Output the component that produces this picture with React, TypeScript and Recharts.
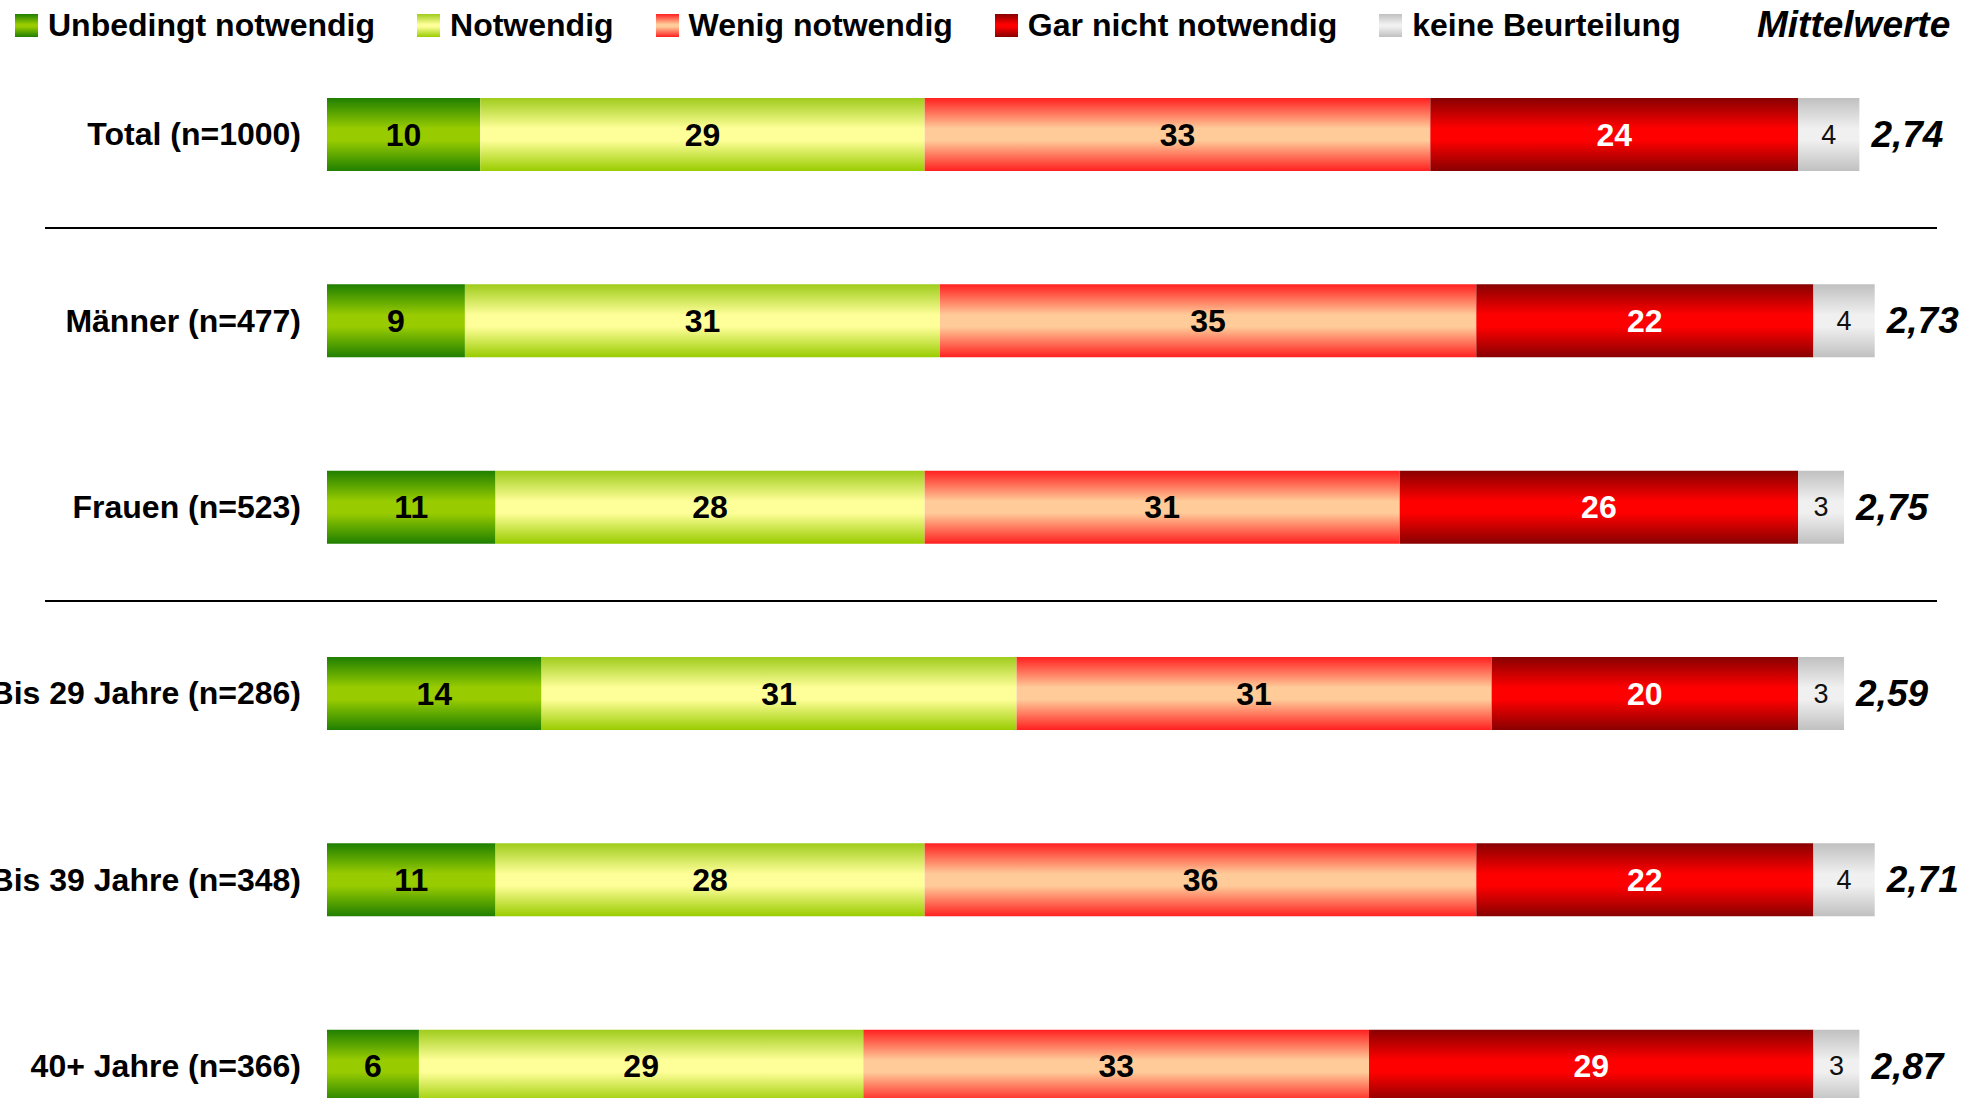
import React from 'react';
import { BarChart, Bar, XAxis, YAxis, LabelList, Legend, ReferenceLine } from 'recharts';

// ---------- data ----------
const categories = [
  'Total (n=1000)',
  'Männer (n=477)',
  'Frauen (n=523)',
  'Bis 29 Jahre (n=286)',
  'Bis 39 Jahre (n=348)',
  '40+ Jahre (n=366)',
];
const unbedingt = [10, 9, 11, 14, 11, 6];
const notwendig = [29, 31, 28, 31, 28, 29];
const wenig = [33, 35, 31, 31, 36, 33];
const garNicht = [24, 22, 26, 20, 22, 29];
const keine = [4, 4, 3, 3, 4, 3];
const means = [2.74, 2.73, 2.75, 2.59, 2.71, 2.87];

const seriesKeys = ['unbedingt', 'notwendig', 'wenig', 'garNicht', 'keine'];
const seriesNames = [
  'Unbedingt notwendig',
  'Notwendig',
  'Wenig notwendig',
  'Gar nicht notwendig',
  'keine Beurteilung',
];
const meanTitle = 'Mittelwerte';
const separatorBefore = [1, 3]; // separator line drawn above these category indices

// ---------- styles ----------
const gradients = [
  ['#1f7f00', '#99cc00', '#99cc00', '#1f7f00'],
  ['#9fcc1c', '#ffff99', '#ffff99', '#99cc00'],
  ['#ff2020', '#ffcc99', '#ffcc99', '#ff2020'],
  ['#880000', '#ff0000', '#ff0000', '#880000'],
  ['#c0c0c0', '#f0f0f0', '#f0f0f0', '#c0c0c0'],
];
const gradOffsets = ['0%', '42%', '58%', '100%'];
const labelColors = ['#000', '#000', '#000', '#fff', '#111'];
const FONT = '"Liberation Sans", Arial, Helvetica, sans-serif';

const data = categories.map((name, i) => ({
  name,
  unbedingt: unbedingt[i],
  notwendig: notwendig[i],
  wenig: wenig[i],
  garNicht: garNicht[i],
  keine: keine[i],
  mean: means[i],
}));

const W = 1982;
const H = 1180;
const margin = { top: 41, right: 46, bottom: 21, left: 0 };
const bandStep = (H - margin.top - margin.bottom) / categories.length;

const CategoryTick = (props: any) => {
  const { x, y, payload } = props;
  return (
    <text
      x={x}
      y={y}
      textAnchor="end"
      dominantBaseline="central"
      fontFamily={FONT}
      fontWeight="bold"
      fontSize={32}
      fill="#000"
    >
      {payload.value}
    </text>
  );
};

const makeSegLabel = (i: number) => (props: any) => {
  const { x, y, width, height, value } = props;
  const isGrey = i === 4;
  return (
    <text
      x={x + width / 2}
      y={y + height / 2}
      textAnchor="middle"
      dominantBaseline="central"
      fontFamily={FONT}
      fontWeight={isGrey ? 'normal' : 'bold'}
      fontSize={isGrey ? 27 : 32}
      fill={labelColors[i]}
    >
      {value}
    </text>
  );
};

const MeanLabel = (props: any) => {
  const { x, y, width, height, value } = props;
  return (
    <text
      x={x + width + 12}
      y={y + height / 2}
      textAnchor="start"
      dominantBaseline="central"
      fontFamily={FONT}
      fontWeight="bold"
      fontStyle="italic"
      fontSize={37}
      fill="#000"
    >
      {Number(value).toFixed(2).replace('.', ',')}
    </text>
  );
};

const SeparatorShape = (props: any) => {
  const y = Math.round(props.y1 - bandStep / 2) + 1;
  return <line x1={45} x2={1937} y1={y} y2={y} stroke="#000" strokeWidth={2} />;
};

const LegendContent = () => (
  <div
    style={{
      position: 'relative',
      display: 'flex',
      alignItems: 'center',
      height: 50,
      paddingLeft: 15,
      fontFamily: FONT,
      fontWeight: 'bold',
      fontSize: 32,
      color: '#000',
      whiteSpace: 'nowrap',
    }}
  >
    {seriesNames.map((n, i) => (
      <div key={n} style={{ display: 'flex', alignItems: 'center', marginRight: 42 }}>
        <div
          style={{
            width: 23,
            height: 23,
            marginRight: 10,
            background: `linear-gradient(to bottom, ${gradients[i][0]} 0%, ${gradients[i][1]} 45%, ${gradients[i][2]} 55%, ${gradients[i][3]} 100%)`,
          }}
        />
        <span>{n}</span>
      </div>
    ))}
    <span
      style={{
        position: 'absolute',
        left: 1757,
        fontStyle: 'italic',
        fontSize: 37,
      }}
    >
      {meanTitle}
    </span>
  </div>
);

export default function App() {
  return (
    <div
      style={{
        position: 'fixed',
        left: 0,
        top: 0,
        width: W,
        height: 1098,
        overflow: 'hidden',
        background: '#fff',
      }}
    >
      <BarChart width={W} height={H} data={data} layout="vertical" margin={margin} barSize={73}>
        <defs>
          {gradients.map((g, i) => (
            <linearGradient key={i} id={`grad${i}`} x1="0" y1="0" x2="0" y2="1">
              {g.map((c, j) => (
                <stop key={j} offset={gradOffsets[j]} stopColor={c} />
              ))}
            </linearGradient>
          ))}
        </defs>
        <XAxis type="number" domain={[0, 105]} hide />
        <YAxis
          type="category"
          dataKey="name"
          width={327}
          axisLine={false}
          tickLine={false}
          tickSize={0}
          tickMargin={26}
          interval={0}
          tick={<CategoryTick />}
        />
        {separatorBefore.map((ci) => (
          <ReferenceLine key={ci} y={categories[ci]} shape={<SeparatorShape />} />
        ))}
        {seriesKeys.map((k, i) => (
          <Bar
            key={k}
            dataKey={k}
            name={seriesNames[i]}
            stackId="s"
            fill={`url(#grad${i})`}
            isAnimationActive={false}
          >
            <LabelList dataKey={k} content={makeSegLabel(i)} />
            {i === seriesKeys.length - 1 && <LabelList dataKey="mean" content={MeanLabel} />}
          </Bar>
        ))}
        <Legend
          verticalAlign="middle"
          align="center"
          content={<LegendContent />}
          wrapperStyle={{ top: 0, left: 0, width: W, height: 50 }}
        />
      </BarChart>
    </div>
  );
}
